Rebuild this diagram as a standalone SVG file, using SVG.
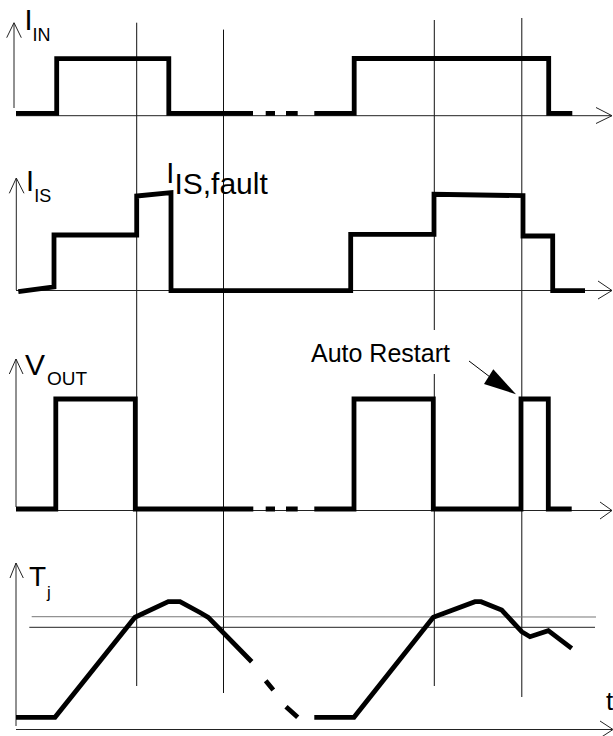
<svg xmlns="http://www.w3.org/2000/svg" width="613" height="736" viewBox="0 0 613 736">
<style>
.sig{fill:none;stroke:#000;stroke-width:4.8;stroke-linejoin:miter;stroke-linecap:butt}
.ax{fill:none;stroke:#222;stroke-width:1}
.vl{fill:none;stroke:#111;stroke-width:1}
.lbl{font-family:"Liberation Sans",Arial,sans-serif;fill:#000}
</style>
<rect width="613" height="736" fill="#fff"/>
<g id="gridlines">
<line class="vl" x1="136.7" y1="22.7" x2="136.7" y2="686"/>
<line class="vl" x1="223.5" y1="29.6" x2="223.5" y2="693"/>
<line class="vl" x1="434.3" y1="20" x2="434.3" y2="330"/>
<line class="vl" x1="434.3" y1="374" x2="434.3" y2="686"/>
<line class="vl" x1="521.8" y1="18" x2="521.8" y2="697"/>
</g>
<g id="panel-iin">
<line class="ax" x1="14" y1="108" x2="14" y2="23"/>
<polyline class="ax" points="6.7,37.7 14,22.7 21.3,37.7"/>
<line class="ax" x1="16" y1="115.7" x2="612" y2="115.7"/>
<polyline class="ax" points="596,107.5 612,115.7 596,123.5"/>
<path class="sig" d="M16,113.3 H56.7 V58.7 H168.8 V113.3 H253 M265.7,113.3 H275 M286,113.3 H297.7 M314.3,113.3 H354.2 V58.5 H548.7 V113.3 H572.3"/>
<text class="lbl" x="24.5" y="30" font-size="29">I</text>
<text class="lbl" x="32.6" y="41" font-size="18">IN</text>
</g>
<g id="panel-iis">
<line class="ax" x1="16.3" y1="290" x2="16.3" y2="178"/>
<polyline class="ax" points="9.3,193.3 16.3,178 24,193.3"/>
<line class="ax" x1="16" y1="290.5" x2="612" y2="290.5"/>
<polyline class="ax" points="598,281 612,290.5 598,299"/>
<path class="sig" d="M18.3,291.7 L54,287 V235 H136.7 V196 L171,192.7 V290.7 H350.7 V234.3 H434 V194.3 L523,195.7 V236 H552.7 V290.7 H585"/>
<text class="lbl" x="26" y="191" font-size="29">I</text>
<text class="lbl" x="34.2" y="201.7" font-size="18">IS</text>
<text class="lbl" x="166.2" y="183.3" font-size="29">I</text>
<text class="lbl" x="174.4" y="194.3" font-size="30">IS,fault</text>
</g>
<g id="panel-vout">
<line class="ax" x1="16" y1="507" x2="16" y2="359"/>
<polyline class="ax" points="9.3,374 16,359 23,374"/>
<line class="ax" x1="16" y1="510.5" x2="612" y2="510.5"/>
<polyline class="ax" points="600,502 612,510.5 600,519"/>
<path class="sig" d="M16,509 H55.8 V399 H135.3 V509 H253.3 M265.7,509 H275 M286,509 H297.7 M314.3,509 H354 V399 H433.3 V509 H521 V399 H548.3 V509 H571.7"/>
<text class="lbl" x="25" y="375" font-size="30">V</text>
<text class="lbl" x="47" y="385" font-size="19">OUT</text>
<text class="lbl" x="311" y="362" font-size="25">Auto Restart</text>
<line x1="469" y1="361" x2="490" y2="377" stroke="#000" stroke-width="1"/>
<polygon points="484,384 493.3,369.3 516,394.3" fill="#000"/>
</g>
<g id="panel-tj">
<line class="ax" x1="16" y1="726" x2="16" y2="563"/>
<polyline class="ax" points="10,578 16,563 23.3,578"/>
<line class="ax" x1="16" y1="729.5" x2="612" y2="729.5"/>
<polyline class="ax" points="600,721 613,729.5 600,738"/>
<line x1="31.7" y1="616.7" x2="596" y2="617" stroke="#777" stroke-width="1"/>
<line x1="29.3" y1="627.3" x2="595" y2="627.3" stroke="#222" stroke-width="1"/>
<path class="sig" d="M16,717.3 H55 L135,617.3 L168.3,601.7 H180 L200,612.5 L208.3,617.3 L251.7,661.7 M265.7,680.7 L273.3,690 M286,706.7 L297.7,717.3 M314.3,717.3 H354 L433.3,617.3 L475,601.7 H481 L501.7,610 L521.7,631.7 L530,636.7 L548.3,630.7 L571.7,648.3"/>
<text class="lbl" x="29" y="586" font-size="28">T</text>
<text class="lbl" x="47" y="598" font-size="17">j</text>
<text class="lbl" x="606" y="710" font-size="26">t</text>
</g>
</svg>
